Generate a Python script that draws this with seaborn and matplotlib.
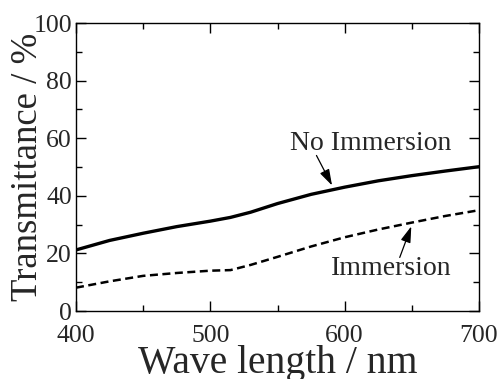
import matplotlib
matplotlib.use("Agg")
import matplotlib.pyplot as plt
from matplotlib.ticker import MultipleLocator
import seaborn as sns
import pandas as pd

wavelength = [400, 425, 450, 475, 500, 515, 530, 550, 575, 600, 625, 650, 675, 700]
no_immersion = [21.2, 24.5, 27.0, 29.3, 31.2, 32.5, 34.3, 37.3, 40.5, 43.0, 45.2, 47.0, 48.6, 50.1]
immersion = [8.1, 10.3, 12.2, 13.2, 14.0, 14.2, 16.0, 18.8, 22.4, 25.6, 28.3, 30.7, 33.0, 35.0]

sns.set_style("ticks")
plt.rcParams['font.family'] = ['Liberation Serif', 'DejaVu Serif']
plt.rcParams['mathtext.fontset'] = 'stix'

df = pd.DataFrame({
    "wl": wavelength * 2,
    "T": no_immersion + immersion,
    "series": ["No Immersion"] * len(wavelength) + ["Immersion"] * len(wavelength),
})

fig = plt.figure(figsize=(5.01, 3.79), dpi=100)
ax = fig.add_axes([76 / 501, 1 - 311 / 379, (479 - 76) / 501, (311 - 23) / 379])

sns.lineplot(data=df, x="wl", y="T", hue="series", style="series",
             palette={"No Immersion": "black", "Immersion": "black"},
             dashes={"No Immersion": "", "Immersion": (3.2, 1.8)},
             linewidth=2.0, ax=ax, legend=False)
for line in ax.get_lines():
    if line.get_linestyle() == '-':
        line.set_linewidth(2.4)
    else:
        line.set_linewidth(1.8)

ax.set_xlim(400, 700)
ax.set_ylim(0, 100)
ax.xaxis.set_major_locator(MultipleLocator(100))
ax.xaxis.set_minor_locator(MultipleLocator(50))
ax.yaxis.set_major_locator(MultipleLocator(20))
ax.yaxis.set_minor_locator(MultipleLocator(10))
ax.tick_params(which='both', direction='in', top=True, right=True, width=1.0, color='black')
ax.tick_params(which='major', length=7, labelsize=18.5)
ax.tick_params(axis='x', which='major', pad=10)
ax.tick_params(axis='y', which='major', pad=3)
ax.tick_params(which='minor', length=4)
for s in ax.spines.values():
    s.set_linewidth(1.0)
    s.set_color('black')

ax.set_xlabel("Wave length / nm", fontsize=28.5, labelpad=-1)
ax.set_ylabel("Transmittance / %", fontsize=26.5)
ax.yaxis.set_label_coords(-0.077, 0.5)

ax.text(619, 58, "No Immersion", fontsize=20, ha='center', va='center')
ax.text(635, 14.8, "Immersion", fontsize=20, ha='center', va='center')
arrow = dict(arrowstyle='-|>,head_length=0.7,head_width=0.22', color='black', lw=0.9,
             mutation_scale=14, shrinkA=0, shrinkB=0)
ax.annotate("", xy=(590.6, 43.6), xytext=(579, 54), arrowprops=arrow)
ax.annotate("", xy=(649.6, 29.4), xytext=(641, 18.6), arrowprops=arrow)

fig.savefig("out.png", dpi=100)
